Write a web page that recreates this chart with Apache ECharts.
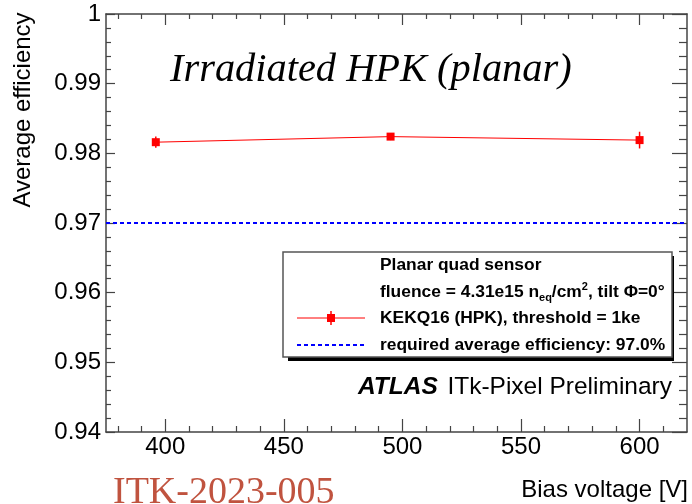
<!DOCTYPE html>
<html>
<head>
<meta charset="utf-8">
<script src="https://cdn.jsdelivr.net/npm/echarts@6/dist/echarts.min.js"></script>
<style>
html,body{margin:0;padding:0;background:#fff;}
#chart{width:692px;height:504px;}
</style>
</head>
<body>
<div id="chart"></div>
<script>
// ---- data ----
var biasVoltage = [396, 495, 600];
var avgEfficiency = [0.9816, 0.9824, 0.9819];
var effError = [0.0008, 0.0005, 0.0012];
var requiredEfficiency = 0.97;
var xMajorTicks = [400, 450, 500, 550, 600];
var xMinorTicks = [380, 390, 410, 420, 430, 440, 460, 470, 480, 490, 510, 520, 530, 540, 560, 570, 580, 590, 610];
var xRange = [375, 620];
var yRange = [0.94, 1.0];
var yStep = 0.01;

var chart = echarts.init(document.getElementById('chart'));
var SANS = 'Liberation Sans, Arial, Helvetica, sans-serif';
var SERIF = 'Liberation Serif, Times New Roman, serif';
var axisCol = '#444';
var LF = 17.4;

function xAxisDef(pos, ticks, len, showLabel, showLine) {
  return {
    type: 'value', position: pos, min: xRange[0], max: xRange[1],
    axisLine: {show: showLine, onZero: false, lineStyle: {color: axisCol, width: 1.5}},
    axisTick: {show: true, inside: true, length: len, customValues: ticks, lineStyle: {color: axisCol, width: 1.2}},
    axisLabel: showLabel ? {show: true, customValues: ticks, fontFamily: SANS, fontSize: 24, color: '#000', margin: 3} : {show: false},
    splitLine: {show: false}
  };
}
function yAxisDef(pos, len, mlen, showLabel) {
  return {
    type: 'value', position: pos, min: yRange[0], max: yRange[1], interval: yStep,
    axisLine: {show: true, onZero: false, lineStyle: {color: axisCol, width: 1.5}},
    axisTick: {show: true, inside: true, length: len, lineStyle: {color: axisCol, width: 1.2}},
    minorTick: {show: true, splitNumber: 5, length: mlen, lineStyle: {color: axisCol, width: 1.2}},
    axisLabel: showLabel ? {show: true, fontFamily: SANS, fontSize: 24, color: '#000', margin: 5,
      formatter: function (v) { return String(parseFloat(v.toFixed(2))); }} : {show: false},
    splitLine: {show: false}, minorSplitLine: {show: false}
  };
}

var pointData = biasVoltage.map(function (v, i) { return [v, avgEfficiency[i]]; });
var errData = biasVoltage.map(function (v, i) { return [v, avgEfficiency[i], effError[i]]; });

var option = {
  backgroundColor: '#fff',
  animation: false,
  grid: {left: 106, right: 5, top: 14, bottom: 72, containLabel: false},
  xAxis: [
    xAxisDef('bottom', xMajorTicks, 13, true, true),
    xAxisDef('bottom', xMinorTicks, 6, false, false),
    xAxisDef('top', xMajorTicks, 11, false, true),
    xAxisDef('top', xMinorTicks, 5, false, false)
  ],
  yAxis: [
    yAxisDef('left', 9, 5, true),
    yAxisDef('right', 15, 8, false)
  ],
  series: [
    {
      type: 'line', xAxisIndex: 0, yAxisIndex: 0,
      data: pointData,
      symbol: 'rect', symbolSize: 8,
      itemStyle: {color: '#ff0000'},
      lineStyle: {color: '#ff0000', width: 1},
      z: 5,
      markLine: {
        silent: true, symbol: 'none', label: {show: false},
        lineStyle: {color: '#0000ff', type: [4, 3], width: 2},
        data: [{yAxis: requiredEfficiency}]
      }
    },
    {
      type: 'custom', xAxisIndex: 0, yAxisIndex: 0,
      data: errData, z: 4,
      renderItem: function (params, api) {
        var x = api.value(0), y = api.value(1), e = api.value(2);
        var p1 = api.coord([x, y + e]);
        var p2 = api.coord([x, y - e]);
        return {type: 'line', shape: {x1: p1[0], y1: p1[1], x2: p2[0], y2: p2[1]},
          style: {stroke: '#ff0000', lineWidth: 1.5}};
      }
    }
  ],
  graphic: [
    {type: 'text', x: 23, y: 110, rotation: Math.PI / 2,
      style: {text: 'Average efficiency', fontFamily: SANS, fontSize: 24, fill: '#000', align: 'center', verticalAlign: 'middle'}},
    {type: 'text', x: 688, y: 490,
      style: {text: 'Bias voltage [V]', fontFamily: SANS, fontSize: 24, fill: '#000', align: 'right', verticalAlign: 'middle'}},
    {type: 'text', x: 170, y: 70,
      style: {text: 'Irradiated HPK (planar)', fontFamily: SERIF, fontStyle: 'italic', fontSize: 40.4, fill: '#000', align: 'left', verticalAlign: 'middle'}},
    {type: 'text', x: 113, y: 493,
      style: {text: 'ITK-2023-005', fontFamily: SERIF, fontSize: 38, fill: '#c0533f', align: 'left', verticalAlign: 'middle'}},
    // legend shadow + box
    {type: 'rect', shape: {x: 288, y: 256, width: 386, height: 105}, style: {fill: '#000'}, z: 10},
    {type: 'rect', shape: {x: 283, y: 252, width: 389, height: 105}, style: {fill: '#fff', stroke: '#555', lineWidth: 1.5}, z: 11},
    {type: 'text', x: 380, y: 265, z: 12,
      style: {text: 'Planar quad sensor', fontFamily: SANS, fontWeight: 'bold', fontSize: LF, fill: '#000', verticalAlign: 'middle'}},
    {type: 'text', x: 380, y: 292, z: 12,
      style: {text: '{n|fluence = 4.31e15 n}{sub|eq}{n|/cm}{sup|2}{n|, tilt Φ=0°}', fontFamily: SANS, fontWeight: 'bold', fontSize: LF, fill: '#000', verticalAlign: 'middle',
        rich: {
          n: {fontFamily: SANS, fontWeight: 'bold', fontSize: LF, lineHeight: 22, verticalAlign: 'middle'},
          sub: {fontFamily: SANS, fontWeight: 'bold', fontSize: 11, lineHeight: 22, verticalAlign: 'bottom'},
          sup: {fontFamily: SANS, fontWeight: 'bold', fontSize: 11, lineHeight: 22, verticalAlign: 'top'}
        }}},
    {type: 'text', x: 380, y: 318, z: 12,
      style: {text: 'KEKQ16 (HPK), threshold = 1ke', fontFamily: SANS, fontWeight: 'bold', fontSize: LF, fill: '#000', verticalAlign: 'middle'}},
    {type: 'text', x: 380, y: 345, z: 12,
      style: {text: 'required average efficiency: 97.0%', fontFamily: SANS, fontWeight: 'bold', fontSize: LF, fill: '#000', verticalAlign: 'middle'}},
    {type: 'line', z: 12, shape: {x1: 297, y1: 318, x2: 365, y2: 318}, style: {stroke: '#ff0000', lineWidth: 1}},
    {type: 'line', z: 12, shape: {x1: 331, y1: 311, x2: 331, y2: 325}, style: {stroke: '#ff0000', lineWidth: 1.5}},
    {type: 'rect', z: 12, shape: {x: 327, y: 314, width: 8, height: 8}, style: {fill: '#ff0000'}},
    {type: 'line', z: 12, shape: {x1: 297, y1: 345, x2: 365, y2: 345}, style: {stroke: '#0000ff', lineWidth: 2, lineDash: [4, 3]}},
    // ATLAS label
    {type: 'text', x: 358, y: 387, z: 12,
      style: {text: 'ATLAS', fontFamily: SANS, fontWeight: 'bold', fontStyle: 'italic', fontSize: 24.5, fill: '#000', verticalAlign: 'middle'}},
    {type: 'text', x: 672, y: 387, z: 12,
      style: {text: 'ITk-Pixel Preliminary', fontFamily: SANS, fontSize: 24.5, fill: '#000', align: 'right', verticalAlign: 'middle'}}
  ]
};
chart.setOption(option);
</script>
</body>
</html>
